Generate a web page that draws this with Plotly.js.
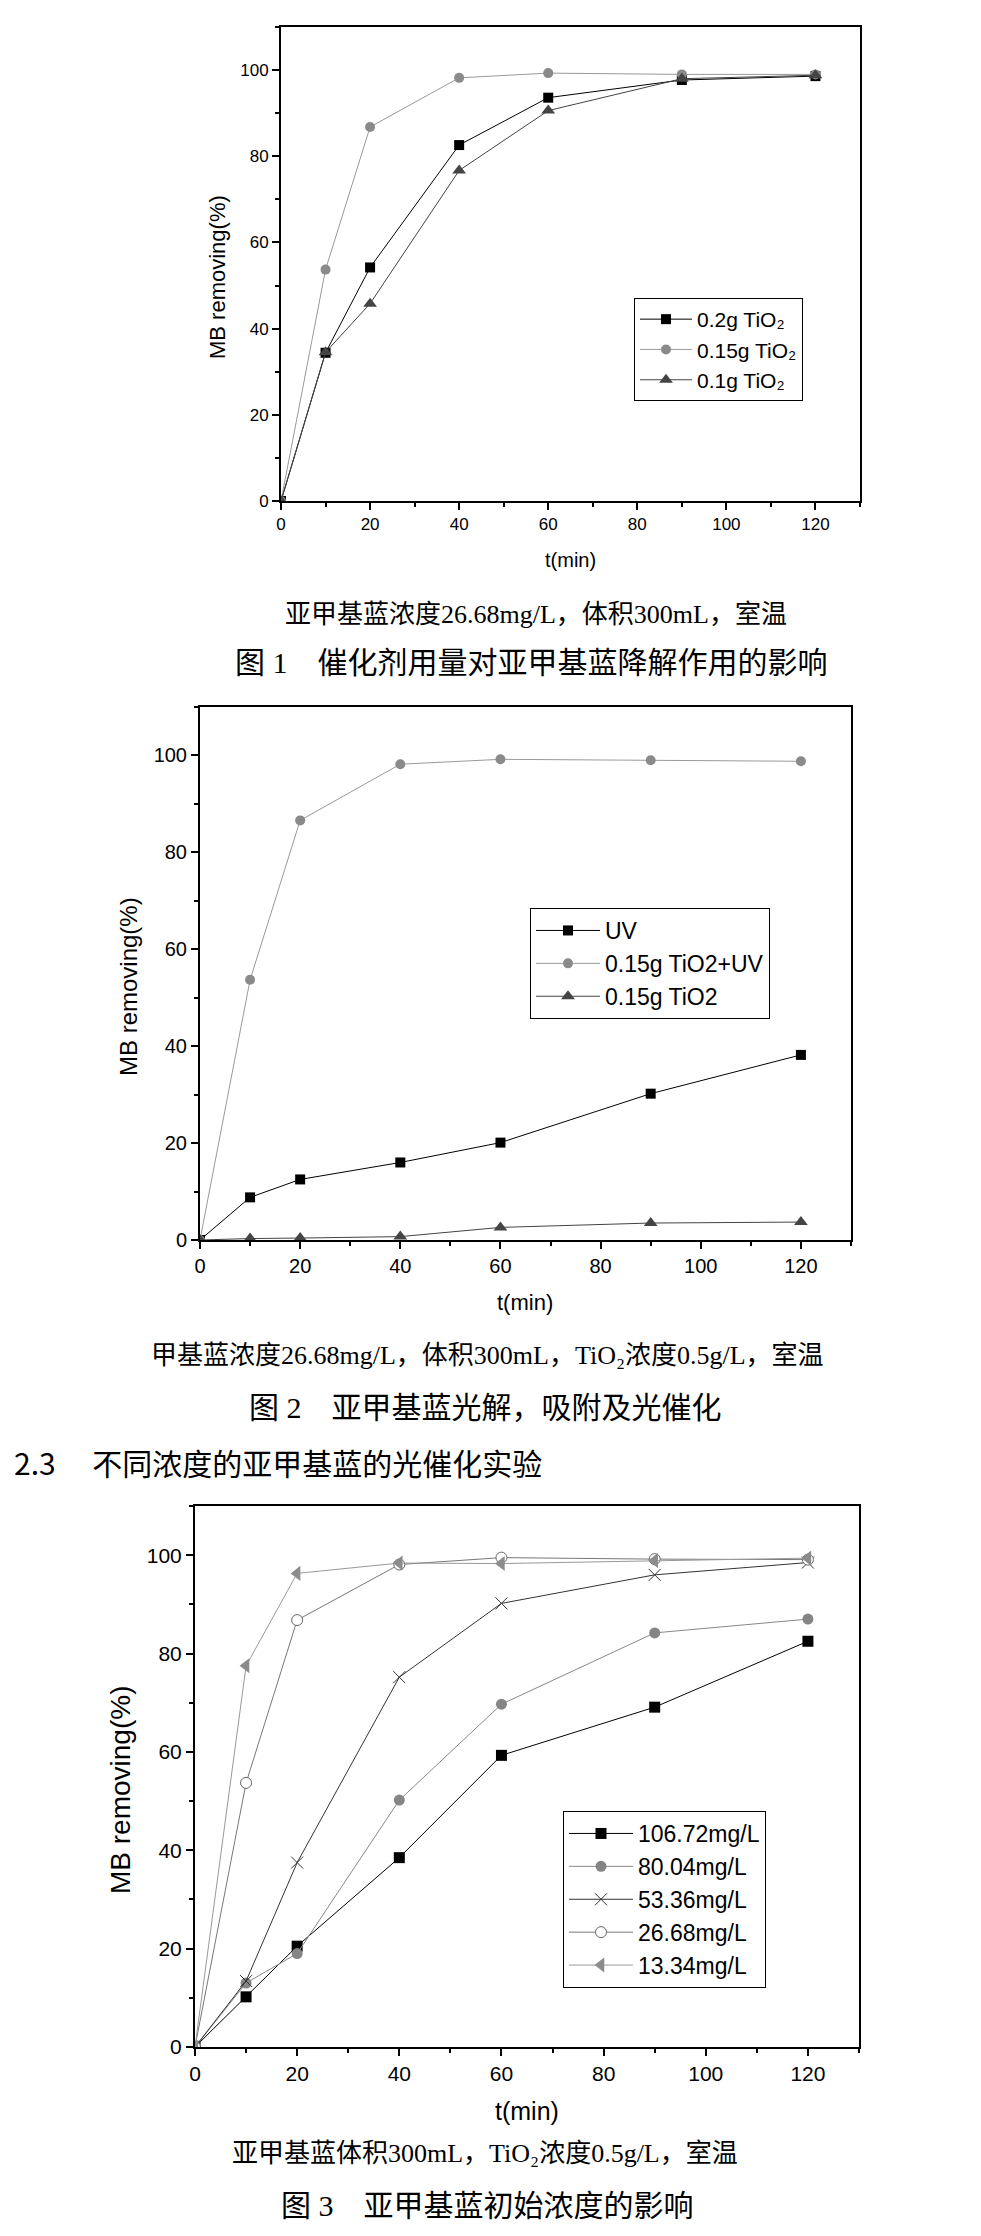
<!DOCTYPE html>
<html><head><meta charset="utf-8">
<script src="https://cdn.plot.ly/plotly-3.0.1.min.js"></script>
<style>html,body{margin:0;padding:0;background:#fff}#chart{width:981px;height:2236px}</style>
</head><body><div id="chart"></div>
<script>
// ---- data ----
const time = [0, 10, 20, 40, 60, 90, 120];
const xTicks = [0, 20, 40, 60, 80, 100, 120];
const yTicks = [0, 20, 40, 60, 80, 100];

// Fig 1: catalyst dosage
const fig1Names = ['0.2g TiO\u2082', '0.15g TiO\u2082', '0.1g TiO\u2082'];
const fig1_02g  = [0, 34.4, 54.2, 82.6, 93.6, 97.7, 98.6];
const fig1_015g = [0, 53.7, 86.8, 98.2, 99.3, 99.0, 99.0];
const fig1_01g  = [0, 34.5, 45.8, 76.7, 90.6, 98.0, 98.8];

// Fig 2: photolysis, adsorption, photocatalysis
const fig2Names = ['UV', '0.15g TiO2+UV', '0.15g TiO2'];
const fig2_uv     = [0, 8.8, 12.5, 16.0, 20.1, 30.2, 38.2];
const fig2_tio2uv = [0, 53.7, 86.6, 98.2, 99.2, 99.0, 98.8];
const fig2_tio2   = [0, 0.3, 0.4, 0.7, 2.6, 3.5, 3.7];

// Fig 3: initial concentration
const fig3Names = ['106.72mg/L', '80.04mg/L', '53.36mg/L', '26.68mg/L', '13.34mg/L'];
const fig3_106 = [0, 10.2, 20.5, 38.5, 59.3, 69.1, 82.5];
const fig3_80  = [0, 13.0, 19.0, 50.2, 69.7, 84.2, 87.0];
const fig3_53  = [0, 13.4, 37.5, 75.2, 90.2, 96.0, 98.5];
const fig3_26  = [0, 53.7, 86.8, 98.1, 99.5, 99.2, 99.1];
const fig3_13  = [0, 77.5, 96.3, 98.4, 98.3, 98.9, 99.4];

// ---- layout helpers ----
const W = 981, H = 2236;
const px = v => v / W;
const py = v => 1 - v / H;
const SANS = 'Liberation Sans, Arial, sans-serif';
const CAP = 'Liberation Serif, Noto Sans CJK SC, serif';
const CJK = 'Noto Sans CJK SC, sans-serif';

function xAxis(l, r, anchor, fs) {
  return {domain: [px(l), px(r)], anchor: anchor, range: [0, 130], tickvals: xTicks,
    ticks: 'outside', ticklen: 7, tickwidth: 2, tickcolor: '#000',
    showline: true, linewidth: 2, linecolor: '#000', mirror: true,
    showgrid: false, zeroline: false, fixedrange: true,
    tickfont: {family: SANS, size: fs, color: '#000'},
    minor: {dtick: 10, tick0: 0, ticks: 'outside', ticklen: 4, tickwidth: 2, tickcolor: '#000', showgrid: false}};
}
function yAxis(t, b, anchor, fs) {
  return {domain: [py(b), py(t)], anchor: anchor, range: [0, 110], tickvals: yTicks,
    ticks: 'outside', ticklen: 7, tickwidth: 2, tickcolor: '#000',
    showline: true, linewidth: 2, linecolor: '#000', mirror: true,
    showgrid: false, zeroline: false, fixedrange: true,
    tickfont: {family: SANS, size: fs, color: '#000'},
    minor: {dtick: 10, tick0: 0, ticks: 'outside', ticklen: 4, tickwidth: 2, tickcolor: '#000', showgrid: false}};
}
function tr(y, name, xa, ya, lg, lineColor, marker) {
  return {x: time, y: y, name: name, xaxis: xa, yaxis: ya, legend: lg, type: 'scatter',
    mode: 'lines+markers', line: {color: lineColor, width: 1}, marker: marker};
}

const traces = [
  tr(fig1_02g,  fig1Names[0], 'x', 'y', 'legend', '#000', {symbol: 'square', size: 10, color: '#000'}),
  tr(fig1_015g, fig1Names[1], 'x', 'y', 'legend', '#999', {symbol: 'circle', size: 10, color: '#8a8a8a'}),
  tr(fig1_01g,  fig1Names[2], 'x', 'y', 'legend', '#444', {symbol: 'triangle-up', size: 12, color: '#444'}),

  tr(fig2_uv,     fig2Names[0], 'x2', 'y2', 'legend2', '#000', {symbol: 'square', size: 10, color: '#000'}),
  tr(fig2_tio2uv, fig2Names[1], 'x2', 'y2', 'legend2', '#999', {symbol: 'circle', size: 10, color: '#8a8a8a'}),
  tr(fig2_tio2,   fig2Names[2], 'x2', 'y2', 'legend2', '#444', {symbol: 'triangle-up', size: 12, color: '#444'}),

  tr(fig3_106, fig3Names[0], 'x3', 'y3', 'legend3', '#000', {symbol: 'square', size: 11, color: '#000'}),
  tr(fig3_80,  fig3Names[1], 'x3', 'y3', 'legend3', '#888', {symbol: 'circle', size: 11, color: '#858585'}),
  tr(fig3_53,  fig3Names[2], 'x3', 'y3', 'legend3', '#333', {symbol: 'x-thin-open', size: 12, color: '#333', line: {width: 1, color: '#333'}}),
  tr(fig3_26,  fig3Names[3], 'x3', 'y3', 'legend3', '#777', {symbol: 'circle', size: 11, color: '#fff', line: {width: 1, color: '#666'}}),
  tr(fig3_13,  fig3Names[4], 'x3', 'y3', 'legend3', '#999', {symbol: 'triangle-left', size: 13, color: '#8c8c8c'})
];

function legendAt(l, t, fs, iw) {
  return {x: px(l), y: py(t), xanchor: 'left', yanchor: 'top', bgcolor: '#fff',
    bordercolor: '#000', borderwidth: 1, font: {family: SANS, size: fs, color: '#000'},
    itemwidth: iw, tracegroupgap: 0, itemclick: false, itemdoubleclick: false};
}
function ann(text, x, y, fs, family, opts) {
  return Object.assign({text: text, x: px(x), y: py(y), xref: 'paper', yref: 'paper',
    showarrow: false, xanchor: 'center', yanchor: 'middle',
    font: {family: family, size: fs, color: '#000'}}, opts || {});
}

const annotations = [
  ann('MB removing(%)', 217, 277, 22, SANS, {textangle: -90}),
  ann('t(min)', 570, 560, 20, SANS),
  ann('亚甲基蓝浓度26.68mg/L，体积300mL，室温', 536, 615, 26, CAP),
  ann('图 1\u3000催化剂用量对亚甲基蓝降解作用的影响', 531, 662, 30, CAP),

  ann('MB removing(%)', 128, 987, 24, SANS, {textangle: -90}),
  ann('t(min)', 525, 1302, 22, SANS),
  ann('甲基蓝浓度26.68mg/L，体积300mL，TiO\u2082浓度0.5g/L，室温', 487, 1355, 26, CAP),
  ann('图 2\u3000亚甲基蓝光解，吸附及光催化', 485, 1407, 30, CAP),
  ann('2.3\u3000 不同浓度的亚甲基蓝的光催化实验', 12, 1462, 30, CJK, {xanchor: 'left'}),

  ann('MB removing(%)', 120, 1790, 28, SANS, {textangle: -90}),
  ann('t(min)', 527, 2111, 25, SANS),
  ann('亚甲基蓝体积300mL，TiO\u2082浓度0.5g/L，室温', 485, 2153, 26, CAP),
  ann('图 3\u3000亚甲基蓝初始浓度的影响', 487, 2205, 30, CAP)
];

const layout = {
  width: W, height: H, margin: {l: 0, r: 0, t: 0, b: 0},
  paper_bgcolor: '#fff', plot_bgcolor: '#fff', showlegend: true,
  xaxis: xAxis(281, 860, 'y', 17), yaxis: yAxis(27, 501, 'x', 17),
  xaxis2: xAxis(200, 851, 'y2', 20), yaxis2: yAxis(707, 1240, 'x2', 20),
  xaxis3: xAxis(195, 859, 'y3', 21), yaxis3: yAxis(1506, 2047, 'x3', 21),
  legend: legendAt(634, 298, 21, 52),
  legend2: legendAt(530, 908, 23, 64),
  legend3: legendAt(563, 1811, 23, 64),
  annotations: annotations
};

Plotly.newPlot('chart', traces, layout, {staticPlot: true, displayModeBar: false});
</script></body></html>
